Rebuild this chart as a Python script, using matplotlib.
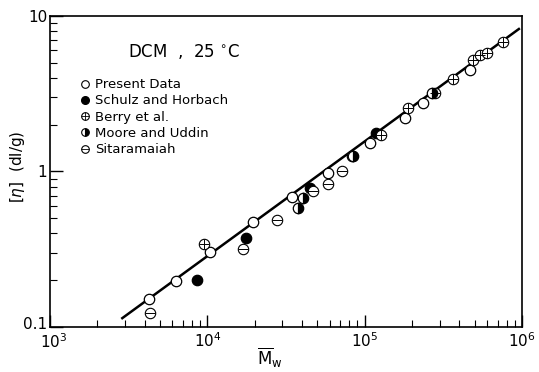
import matplotlib
matplotlib.use('Agg')
import matplotlib.pyplot as plt
import matplotlib.transforms as mtransforms
from matplotlib.legend_handler import HandlerTuple
from matplotlib.lines import Line2D

# molecular weight / intrinsic viscosity
present_m = [4260, 6320, 10400, 19540, 34500, 58400, 82600, 108200, 179900, 235000, 464000]
present_eta = [0.151, 0.198, 0.303, 0.476, 0.689, 0.982, 1.249, 1.524, 2.22, 2.75, 4.50]

schulz_m = [8570, 17620, 45000, 117800]
schulz_eta = [0.200, 0.373, 0.78, 1.76]

berry_m = [9570, 127000, 188000, 280000, 363000, 491000, 542000, 597000, 762000]
berry_eta = [0.342, 1.72, 2.55, 3.18, 3.92, 5.21, 5.61, 5.75, 6.84]

moore_m = [37900, 40800, 84300, 268000]
moore_eta = [0.579, 0.673, 1.258, 3.22]

sita_m = [4330, 16800, 27600, 47200, 58700, 71400]
sita_eta = [0.1225, 0.318, 0.484, 0.753, 0.832, 1.01]

fit_m = [2880, 955000]
fit_eta = [0.114, 8.25]

x_ticks = [1e3, 1e4, 1e5, 1e6]
x_labels = ['$10^3$', '$10^4$', '$10^5$', '$10^6$']
y_ticks = [0.1, 1, 10]
y_labels = ['0.1', '1', '10']


def main():
    fig = plt.figure(figsize=(5.39, 3.72), dpi=100)
    ax = fig.add_axes([0.0928, 0.121, 0.8757, 0.836])
    ms = 7.5
    ax.plot(fit_m, fit_eta, color='black', lw=1.8, zorder=1)

    ax.plot(present_m, present_eta, 'o', ms=ms, mfc='white', mec='black', mew=0.9, zorder=3)
    ax.plot(schulz_m, schulz_eta, 'o', ms=ms, mfc='black', mec='black', mew=0.9, zorder=3)
    ax.plot(berry_m, berry_eta, 'o', ms=ms, mfc='white', mec='black', mew=0.8, zorder=3)
    ax.plot(berry_m, berry_eta, '+', ms=ms, mec='black', mew=0.7, zorder=4)
    ax.plot(moore_m, moore_eta, 'o', ms=ms, fillstyle='right', mfc='black',
            markerfacecoloralt='white', mec='black', mew=0.9, zorder=3)
    ax.plot(sita_m, sita_eta, 'o', ms=ms, mfc='white', mec='black', mew=0.8, zorder=3)
    ax.plot(sita_m, sita_eta, '_', ms=ms, mec='black', mew=0.7, zorder=4)

    ax.set_xscale('log')
    ax.set_yscale('log')
    ax.set_xlim(1e3, 1e6)
    ax.set_ylim(0.1, 10)
    ax.set_xticks(x_ticks)
    ax.set_xticklabels(x_labels, fontsize=11)
    ax.set_yticks(y_ticks)
    ax.set_yticklabels(y_labels, fontsize=11)
    ax.tick_params(which='major', direction='in', length=9, width=1, pad=3)
    ax.tick_params(which='minor', direction='in', length=5, width=0.8)
    ax.tick_params(axis='y', pad=2)
    for s in ax.spines.values():
        s.set_linewidth(1.2)

    # nudge the lowest y label up and the first x label right, as in the original
    lab = ax.get_yticklabels()[0]
    lab.set_transform(lab.get_transform() + mtransforms.ScaledTranslation(0, 3 / 72, fig.dpi_scale_trans))
    lab = ax.get_xticklabels()[0]
    lab.set_transform(lab.get_transform() + mtransforms.ScaledTranslation(3 / 72, -1 / 72, fig.dpi_scale_trans))

    ax.set_xlabel(r'$\overline{\mathrm{M}}_{\mathrm{w}}$', fontsize=12)
    ax.xaxis.set_label_coords(0.466, -0.06)
    ax.set_ylabel(r'[$\eta$]  (dl/g)', fontsize=11)
    ax.yaxis.set_label_coords(-0.068, 0.514)
    ax.yaxis.label.set_va('center')

    ax.text(0.165, 0.885, 'DCM  ,  25 $^{\\circ}$C', transform=ax.transAxes,
            fontsize=12, ha='left', va='center')

    small = 5.5
    h_open = Line2D([], [], ls='none', marker='o', ms=small, mfc='white', mec='black', mew=0.8)
    h_fill = Line2D([], [], ls='none', marker='o', ms=small, mfc='black', mec='black')
    h_berry = (Line2D([], [], ls='none', marker='o', ms=small, mfc='white', mec='black', mew=0.8),
               Line2D([], [], ls='none', marker='+', ms=small, mec='black', mew=0.6))
    h_moore = Line2D([], [], ls='none', marker='o', ms=small, fillstyle='right', mfc='black',
                     markerfacecoloralt='white', mec='black', mew=0.8)
    h_sita = (Line2D([], [], ls='none', marker='o', ms=small, mfc='white', mec='black', mew=0.8),
              Line2D([], [], ls='none', marker='_', ms=small, mec='black', mew=0.6))
    ax.legend([h_open, h_fill, h_berry, h_moore, h_sita],
              ['Present Data', 'Schulz and Horbach', 'Berry et al.', 'Moore and Uddin', 'Sitaramaiah'],
              handler_map={tuple: HandlerTuple(ndivide=1, pad=0)},
              loc='upper left', bbox_to_anchor=(0.062, 0.80), frameon=False,
              fontsize=9.5, handlelength=0.8, handletextpad=0.4, labelspacing=0.25,
              borderpad=0, borderaxespad=0)

    fig.savefig('out.png', dpi=100)


if __name__ == "__main__":
    main()
